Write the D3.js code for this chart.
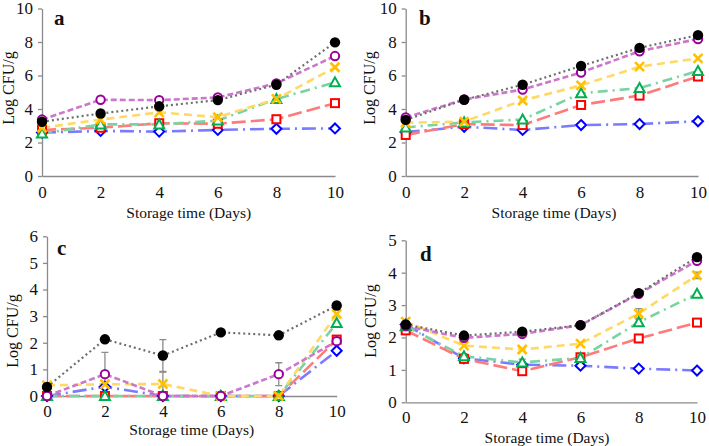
<!DOCTYPE html>
<html>
<head>
<meta charset="utf-8">
<script src="https://cdn.jsdelivr.net/npm/d3@7"></script>
<style>
  html, body { margin: 0; padding: 0; background: #fff; }
  svg { display: block; }
  text { font-family: "Liberation Serif", "Times New Roman", serif; fill: #111; }
</style>
</head>
<body>
<svg id="chart" width="709" height="446"></svg>
<script>
// ---------- DATA ----------
const days = [0, 2, 4, 6, 8, 10];
const seriesKeys = ["blue", "red", "green", "yellow", "purple", "black"];

// Panel a
const aBlue   = [2.59, 2.69, 2.65, 2.75, 2.82, 2.84];
const aRed    = [2.75, 2.88, 3.15, 3.12, 3.39, 4.35];
const aGreen  = [2.53, 3.08, 3.08, 3.31, 4.60, 5.59];
const aYellow = [2.88, 3.37, 3.80, 3.51, 4.60, 6.49];
const aPurple = [3.37, 4.55, 4.53, 4.69, 5.53, 7.16];
const aBlack  = [3.24, 3.73, 4.16, 4.53, 5.45, 7.98];

// Panel b
const bBlue   = [2.62, 2.94, 2.75, 3.04, 3.10, 3.27];
const bRed    = [2.45, 3.10, 3.04, 4.24, 4.80, 5.94];
const bGreen  = [2.90, 3.20, 3.37, 4.94, 5.25, 6.27];
const bYellow = [3.18, 3.25, 4.51, 5.41, 6.53, 7.02];
const bPurple = [3.49, 4.57, 5.16, 6.18, 7.45, 8.18];
const bBlack  = [3.35, 4.55, 5.45, 6.57, 7.65, 8.41];

// Panel c
const cBlue   = [0, 0.35, 0, 0, 0, 1.70];
const cRed    = [0, 0, 0, 0, 0, 2.12];
const cGreen  = [0, 0, 0, 0, 0, 2.74];
const cYellow = [0.40, 0.44, 0.45, 0, 0, 3.08];
const cPurple = [0, 0.82, 0, 0, 0.82, 2.06];
const cBlack  = [0.34, 2.13, 1.52, 2.39, 2.28, 3.40];
// Panel c error bars (±)
const cErrPurple = [0, 0.82, 0, 0, 0.43, 0];
const cErrYellow = [0, 0, 0.45, 0, 0, 0];
const cErrBlack  = [0, 0.05, 0.60, 0.05, 0.12, 0.05];

// Panel d
const dBlue   = [2.40, 1.36, 1.16, 1.13, 1.04, 0.98];
const dRed    = [2.22, 1.34, 0.96, 1.39, 1.97, 2.46];
const dGreen  = [2.35, 1.42, 1.23, 1.37, 2.47, 3.35];
const dYellow = [2.49, 1.75, 1.63, 1.81, 2.74, 3.92];
const dPurple = [2.35, 1.99, 2.11, 2.38, 3.35, 4.37];
const dBlack  = [2.40, 2.06, 2.18, 2.38, 3.37, 4.48];
// Panel d error bars (±)
const dErrYellow = [0, 0, 0, 0, 0.15, 0.10];
const dErrGreen  = [0, 0.08, 0.10, 0, 0.10, 0];

const yTicksA = [0, 2, 4, 6, 8, 10];
const yTicksB = [0, 2, 4, 6, 8, 10];
const yTicksC = [0, 1, 2, 3, 4, 5, 6];
const yTicksD = [0, 1, 2, 3, 4, 5];

const panelLetters = ["a", "b", "c", "d"];
const xTitle = "Storage time (Days)";
const yTitle = "Log CFU/g";

// ---------- STYLES ----------
const styles = {
  blue:   { line: "#7b7bff", dash: "14,5,2,5", mark: "#0000ff", shape: "diamond" },
  red:    { line: "#ff7b7b", dash: "14,5",     mark: "#ff0000", shape: "square" },
  green:  { line: "#79d3a2", dash: "10,5,2,5", mark: "#00b050", shape: "triangle" },
  yellow: { line: "#ffd966", dash: "8,5",      mark: "#ffc000", shape: "x" },
  purple: { line: "#cc77cc", dash: "6,3",      mark: "#990099", shape: "circle" },
  black:  { line: "#6e6e6e", dash: "2,3",      mark: "#000000", shape: "dot" }
};

const panels = [
  { letter: panelLetters[0], values: [aBlue, aRed, aGreen, aYellow, aPurple, aBlack], errs: {},
    yMax: 10, yTicks: yTicksA, x0: 42, x1: 335, yb: 176, yt: 8.5, xPad: 10,
    letterPos: [54, 25], xTitlePos: [188.7, 218], yTitlePos: [8, 88] },
  { letter: panelLetters[1], values: [bBlue, bRed, bGreen, bYellow, bPurple, bBlack], errs: {},
    yMax: 10, yTicks: yTicksB, x0: 405.7, x1: 698, yb: 176, yt: 8.5, xPad: 9.5,
    letterPos: [419, 25], xTitlePos: [554, 218], yTitlePos: [369, 88] },
  { letter: panelLetters[2], values: [cBlue, cRed, cGreen, cYellow, cPurple, cBlack],
    errs: { purple: cErrPurple, yellow: cErrYellow, black: cErrBlack },
    yMax: 6, yTicks: yTicksC, x0: 47, x1: 336.7, yb: 396, yt: 236.3, xPad: 9,
    letterPos: [57, 255], xTitlePos: [191.7, 435], yTitlePos: [12, 331] },
  { letter: panelLetters[3], values: [dBlue, dRed, dGreen, dYellow, dPurple, dBlack],
    errs: { yellow: dErrYellow, green: dErrGreen },
    yMax: 5, yTicks: yTicksD, x0: 405.7, x1: 697, yb: 402.3, yt: 240.3, xPad: 8.5,
    letterPos: [420, 261], xTitlePos: [547, 443], yTitlePos: [370, 321] }
];

const svg = d3.select("#chart");
const axisColor = "#8a8a8a";
const fontFam = '"Liberation Serif", "Times New Roman", serif';

function drawMarker(g, shape, cx, cy, color) {
  if (shape === "diamond") {
    const r = 5;
    g.append("path").attr("d", `M${cx},${cy - r}L${cx + r},${cy}L${cx},${cy + r}L${cx - r},${cy}Z`)
      .attr("fill", "#fff").attr("stroke", color).attr("stroke-width", 2);
  } else if (shape === "square") {
    const s = 4;
    g.append("rect").attr("x", cx - s).attr("y", cy - s).attr("width", 2 * s).attr("height", 2 * s)
      .attr("fill", "#fff").attr("stroke", color).attr("stroke-width", 2);
  } else if (shape === "triangle") {
    const s = 5;
    g.append("path").attr("d", `M${cx},${cy - s}L${cx + s},${cy + s * 0.8}L${cx - s},${cy + s * 0.8}Z`)
      .attr("fill", "#fff").attr("stroke", color).attr("stroke-width", 2);
  } else if (shape === "x") {
    const s = 4.5;
    g.append("path").attr("d", `M${cx - s},${cy - s}L${cx + s},${cy + s}M${cx - s},${cy + s}L${cx + s},${cy - s}`)
      .attr("fill", "none").attr("stroke", color).attr("stroke-width", 2.6);
  } else if (shape === "circle") {
    g.append("circle").attr("cx", cx).attr("cy", cy).attr("r", 4.2)
      .attr("fill", "#fff").attr("stroke", color).attr("stroke-width", 2);
  } else {
    g.append("circle").attr("cx", cx).attr("cy", cy).attr("r", 5.2).attr("fill", color);
  }
}

panels.forEach(p => {
  const g = svg.append("g");
  const x = d3.scaleLinear().domain([0, 10]).range([p.x0, p.x1]);
  const y = d3.scaleLinear().domain([0, p.yMax]).range([p.yb, p.yt]);

  // y axis
  const ya = g.append("g").attr("transform", `translate(${p.x0},0)`)
    .call(d3.axisLeft(y).tickValues(p.yTicks).tickFormat(d3.format("d"))
      .tickSize(4).tickSizeOuter(0).tickPadding(5));
  ya.select(".domain").attr("stroke", axisColor).attr("stroke-width", 1.3);
  ya.selectAll(".tick line").attr("stroke", axisColor).attr("stroke-width", 1.3);
  ya.selectAll("text").style("font-family", fontFam).style("font-size", "17px").attr("fill", "#111");

  // x axis
  const xa = g.append("g").attr("transform", `translate(0,${p.yb})`)
    .call(d3.axisBottom(x).tickValues(days).tickFormat(d3.format("d"))
      .tickSize(0).tickSizeOuter(0).tickPadding(p.xPad));
  xa.select(".domain").attr("stroke", axisColor).attr("stroke-width", 1.3);
  xa.selectAll("text").style("font-family", fontFam).style("font-size", "17px").attr("fill", "#111");

  // titles
  g.append("text").attr("x", p.xTitlePos[0]).attr("y", p.xTitlePos[1])
    .attr("text-anchor", "middle").style("font-size", "15.5px").text(xTitle);
  g.append("text").attr("transform", `translate(${p.yTitlePos[0]},${p.yTitlePos[1]}) rotate(-90)`)
    .attr("text-anchor", "middle").attr("dy", "0.35em").style("font-size", "16px").text(yTitle);
  g.append("text").attr("x", p.letterPos[0]).attr("y", p.letterPos[1])
    .style("font-size", "21px").style("font-weight", "bold").text(p.letter);

  const line = d3.line().x((d, i) => x(days[i])).y(d => y(d));

  // error bars
  seriesKeys.forEach((k, si) => {
    const e = p.errs[k];
    if (!e) return;
    p.values[si].forEach((v, i) => {
      if (!e[i]) return;
      const cx = x(days[i]);
      const lo = y(Math.max(0, v - e[i])), hi = y(v + e[i]);
      g.append("path").attr("d", `M${cx},${lo}V${hi}M${cx - 3.5},${lo}H${cx + 3.5}M${cx - 3.5},${hi}H${cx + 3.5}`)
        .attr("stroke", "#8c8c8c").attr("stroke-width", 1.3).attr("fill", "none");
    });
  });

  // lines, then markers
  seriesKeys.forEach((k, si) => {
    const st = styles[k];
    g.append("path").datum(p.values[si]).attr("d", line)
      .attr("fill", "none").attr("stroke", st.line)
      .attr("stroke-width", k === "black" ? 2.2 : 2.6)
      .attr("stroke-dasharray", st.dash);
  });
  seriesKeys.forEach((k, si) => {
    const st = styles[k];
    p.values[si].forEach((v, i) => drawMarker(g, st.shape, x(days[i]), y(v), st.mark));
  });
});
</script>
</body>
</html>
